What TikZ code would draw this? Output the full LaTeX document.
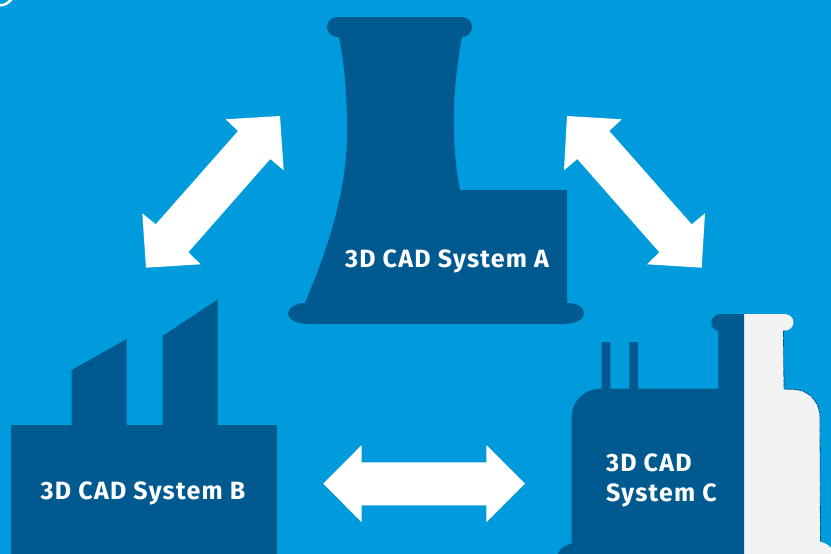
\documentclass[tikz,border=0pt]{standalone}
\usepackage{fontspec}
\setmainfont{Fira Sans}
\definecolor{bgblue}{RGB}{0,155,220}
\definecolor{darkblue}{RGB}{0,90,143}
\definecolor{paleside}{RGB}{242,242,242}
\tikzset{
  building/.style={fill=darkblue,draw=none},
  paleshape/.style={draw=darkblue,line width=0.8pt,dash pattern=on 9pt off 1pt},
  linkarrow/.style={fill=white,draw=none},
  cadlabel/.style={text=white,anchor=base west,inner sep=0pt,outer sep=0pt,font=\fontsize{25}{25}\selectfont\bfseries\addfontfeature{LetterSpace=5}}
}
\begin{document}
\begin{tikzpicture}[x=1pt,y=-1pt]
\fill[bgblue] (0,0) rectangle (831,554);
\useasboundingbox (0,0) rectangle (831,554);
\clip (0,0) rectangle (831,554);
% corner remnant
\fill[white] (0,4) .. controls (4,4) and (7,2.5) .. (9,0) -- (12.5,0) .. controls (9,4.5) and (5,6.5) .. (0,6.5) -- cycle;
% Tower A
\fill[building] (337,17) -- (462,17) .. controls (467.5,17) and (472,21.5) .. (472,27) .. controls (472,32.5) and (467.5,37) .. (462,37)
  .. controls (456,70) and (453,100) .. (454,133) .. controls (454.5,155) and (457,175) .. (460,190)
  -- (567,190) -- (567,303) .. controls (578,303) and (584,308) .. (584,313.5) .. controls (584,319) and (576,324) .. (564,324)
  -- (308,324) .. controls (296,324) and (288,319) .. (288,313.5) .. controls (288,308) and (296,303) .. (305,303)
  .. controls (325,255) and (347,195) .. (347,133) .. controls (347,100) and (345,65) .. (339,37)
  -- (337,37) .. controls (331.5,37) and (327,32.5) .. (327,27) .. controls (327,21.5) and (331.5,17) .. (337,17) -- cycle;
% Factory B
\fill[building] (11,554) -- (11,425) -- (71.7,425) -- (71.7,370) -- (126.7,339) -- (126.7,425) -- (162.7,425) -- (162.7,336) -- (217.7,299.3) -- (217.7,425) -- (277,425) -- (277,554) -- cycle;
% Building C pale part
\fill[paleside] (744,314) -- (784.5,314) .. controls (790,314) and (793.5,318) .. (793.5,322.5) .. controls (793.5,327) and (789,331) .. (783.5,331)
  -- (784,389) -- (796,389.5) .. controls (810,391) and (820,403) .. (820,417) -- (820.5,541.7) .. controls (825,543) and (829,545) .. (831,548) -- (831,554) -- (744,554) -- cycle;
\draw[paleshape] (786,331) -- (783.5,331) -- (784,389) -- (796,389.5) .. controls (810,391) and (820,403) .. (820,417) -- (820.5,541.7);
% Building C dark part
\fill[building] (744,314) -- (721,314) .. controls (715.5,314) and (711.3,318) .. (711.3,322.5) .. controls (711.3,327) and (714,330) .. (718.3,331)
  -- (718.3,388.7) -- (638,388.7) -- (638,342) -- (629.3,342) -- (629.3,388.7) -- (610.3,388.7) -- (610.3,342) -- (601.7,342) -- (601.7,388.7)
  .. controls (584,388.7) and (571.7,401) .. (571.7,417) -- (571.7,543.3) .. controls (565,545) and (559,549) .. (558,554) -- (744,554) -- cycle;
% Arrows
\fill[linkarrow] (280,116) -- (283.7,170.3) -- (270.3,159) -- (188.3,252.3) -- (200.7,264.3) -- (146,267.7) -- (142.3,213.3) -- (155.7,224.3) -- (238,131) -- (225.7,119.3) -- cycle;
\fill[linkarrow] (567,116) -- (621.7,119.3) -- (609.3,131) -- (691.7,224.3) -- (705,213.3) -- (701.7,267.7) -- (647,264.3) -- (659.3,252.3) -- (577.3,159) -- (564,170.3) -- cycle;
\fill[linkarrow] (323.3,483.7) -- (361.7,445) -- (361.7,462.3) -- (486.3,462.3) -- (486.3,445) -- (525,483.7) -- (486.3,522.3) -- (486.3,505.3) -- (361.7,505.3) -- (361.7,522.3) -- cycle;
% Labels
\node[cadlabel] (labelA) at (345,267) {3D CAD System A};
\node[cadlabel] (labelB) at (40.7,499.3) {3D CAD System B};
\node[cadlabel] (labelCa) at (606,471) {3D CAD};
\node[cadlabel] (labelCb) at (606,501.7) {System C};
\end{tikzpicture}
\end{document}
